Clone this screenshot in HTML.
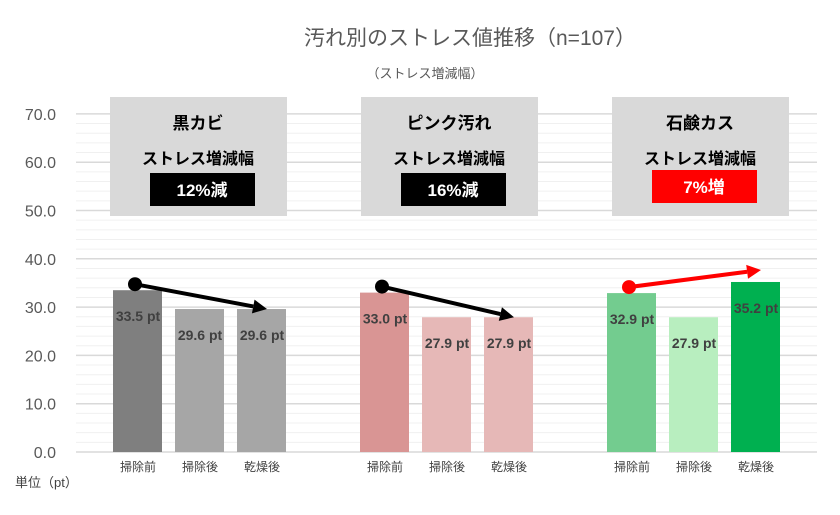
<!DOCTYPE html>
<html><head><meta charset="utf-8"><style>
body{margin:0;background:#fff;}
svg text{font-family:"Liberation Sans","Noto Sans CJK JP",sans-serif;}
</style></head><body>
<svg id="c" width="840" height="510" viewBox="0 0 840 510" xmlns="http://www.w3.org/2000/svg">
<text x="470" y="45" text-anchor="middle" font-size="21" fill="#595959">汚れ別のストレス値推移（n=107）</text>
<text x="425" y="78" text-anchor="middle" font-size="13" fill="#595959">（ストレス増減幅）</text>
<text x="15" y="487" font-size="13" fill="#404040">単位（pt）</text>
<g id="grid"></g><g id="yt"></g><g id="bars"></g><g id="boxes"></g><g id="arrows"></g><g id="labels"></g>
</svg>
<script>
const groups=["黒カビ","ピンク汚れ","石鹸カス"];
const categories=["掃除前","掃除後","乾燥後"];
const values=[[33.5,29.6,29.6],[33.0,27.9,27.9],[32.9,27.9,35.2]];
const changeLabels=["12%減","16%減","7%増"];
const yTicks=[0,10,20,30,40,50,60,70];
const colors=[["#7f7f7f","#a6a6a6","#a6a6a6"],["#d99594","#e6b8b7","#e6b8b7"],["#73cc8f","#b8eebf","#00b050"]];
const NS="http://www.w3.org/2000/svg";
const y=v=>452-v*48.3/10;
const bx=(g,i)=>113+g*247+i*62;
function mk(p,t,a,txt){const e=document.createElementNS(NS,t);for(const k in a)e.setAttribute(k,a[k]);if(txt!==undefined)e.textContent=txt;document.getElementById(p).appendChild(e);return e;}
for(let v=0;v<=70;v+=2){const e=mk("grid","line",{x1:76,x2:817,y1:y(v),y2:y(v),stroke:v%10===0?"#d9d9d9":"#f0f0f0","stroke-width":v%10===0?1.5:1});

}
yTicks.forEach(t=>{const e=mk("yt","text",{x:56,y:y(t)+6,"text-anchor":"end","font-size":16,fill:"#595959"},t.toFixed(1));

});
values.forEach((s,g)=>{
s.forEach((v,i)=>{
const r=mk("bars","rect",{x:bx(g,i),y:y(v),width:49,height:452-y(v),fill:colors[g][i]});


const l=mk("labels","text",{x:bx(g,i)+25,y:y(v)+31,"text-anchor":"middle","font-size":14,"font-weight":"bold",fill:"#404040"},v.toFixed(1)+" pt");


const c=mk("labels","text",{x:bx(g,i)+25,y:471,"text-anchor":"middle","font-size":12,fill:"#404040"},categories[i]);


});
const b=mk("boxes","rect",{x:110+g*251,y:97,width:177,height:119,fill:"#d9d9d9"});


const cx=110+g*251+88;
const t1=mk("boxes","text",{x:cx,y:129,"text-anchor":"middle","font-size":17,"font-weight":"bold",fill:"#000"},groups[g]);


const t2=mk("boxes","text",{x:cx,y:164,"text-anchor":"middle","font-size":16,"font-weight":"bold",fill:"#000"},"ストレス増減幅");


const inc=s[2]>s[0];
const bb=mk("boxes","rect",{x:cx-48,y:inc?170:173,width:105,height:33,fill:inc?"#ff0000":"#000"});


const t3=mk("boxes","text",{x:cx+4,y:inc?193:196,"text-anchor":"middle","font-size":17,"font-weight":"bold",fill:"#fff"},changeLabels[g]);


const col=inc?"#ff0000":"#000";
const x1=bx(g,0)+22,y1=y(s[0])-6,x2=bx(g,2)+30,y2=y(s[2])-(inc?12:0);
const ang=Math.atan2(y2-y1,x2-x1),L=14,W=7;
const ex=x2-L*Math.cos(ang),ey=y2-L*Math.sin(ang);
const ln=mk("arrows","line",{x1:x1,y1:y1,x2:ex,y2:ey,stroke:col,"stroke-width":4});


const px=-Math.sin(ang)*W,py=Math.cos(ang)*W;
const hd=mk("arrows","polygon",{points:`${x2},${y2} ${ex+px},${ey+py} ${ex-px},${ey-py}`,fill:col});


const dt=mk("arrows","circle",{cx:x1,cy:y1,r:7,fill:col});


});
</script>
</body></html>
